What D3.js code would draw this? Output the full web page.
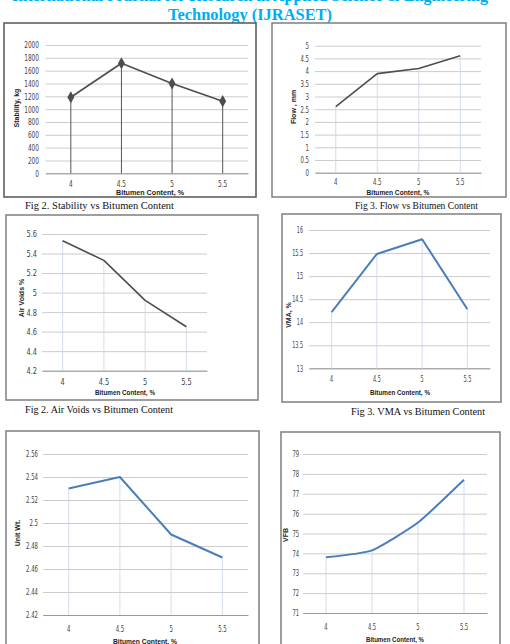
<!DOCTYPE html>
<html>
<head>
<meta charset="utf-8">
<script src="https://cdn.jsdelivr.net/npm/d3@7"></script>
<style>
  body { margin: 0; background: #fff; }
  svg { display: block; }
</style>
</head>
<body>
<svg id="page" width="510" height="644"></svg>
<script>
// bitumen content categories, shared by all six charts
const bitumen = ["4", "4.5", "5", "5.5"];

const stability = [1185, 1715, 1400, 1125];
const stabilityTicks = [0, 200, 400, 600, 800, 1000, 1200, 1400, 1600, 1800, 2000];

const flow = [2.6, 3.9, 4.1, 4.6];
const flowTicks = [0, 0.5, 1, 1.5, 2, 2.5, 3, 3.5, 4, 4.5, 5];

const airVoids = [5.53, 5.33, 4.92, 4.65];
const airVoidsTicks = [4.2, 4.4, 4.6, 4.8, 5, 5.2, 5.4, 5.6];

const vma = [14.22, 15.48, 15.8, 14.28];
const vmaTicks = [13, 13.5, 14, 14.5, 15, 15.5, 16];

const unitWt = [2.53, 2.54, 2.49, 2.47];
const unitWtTicks = [2.42, 2.44, 2.46, 2.48, 2.5, 2.52, 2.54, 2.56];

const vfb = [73.8, 74.15, 75.55, 77.7];
const vfbTicks = [71, 72, 73, 74, 75, 76, 77, 78, 79];

const svg = d3.select("#page");
svg.append("rect").attr("width", 510).attr("height", 644).attr("fill", "#fff");

const tickFont = "'Liberation Sans Narrow', 'DejaVu Sans Condensed', sans-serif";
const titleFont = "'Liberation Sans', Arial, sans-serif";
const serif = "'Liberation Serif', 'DejaVu Serif', serif";

// journal header, top line cut by the page edge
const header = svg.append("g")
    .attr("fill", "#00aeef")
    .attr("font-family", serif)
    .attr("font-weight", "bold")
    .attr("font-size", 17)
    .attr("text-anchor", "middle");
header.append("text")
    .attr("x", 250).attr("y", 1)
    .attr("textLength", 476).attr("lengthAdjust", "spacingAndGlyphs")
    .text("International Journal for Research in Applied Science & Engineering");
header.append("text")
    .attr("x", 250).attr("y", 20)
    .attr("textLength", 164).attr("lengthAdjust", "spacingAndGlyphs")
    .text("Technology (IJRASET)");

// squeeze Calibri-like narrow numerals
function narrow(sel, digitW) {
    sel.each(function () {
        const s = this.textContent;
        const n = s.replace(/[^0-9]/g, "").length;
        const dots = s.length - n;
        d3.select(this)
            .attr("textLength", n * digitW + dots * digitW * 0.5)
            .attr("lengthAdjust", "spacingAndGlyphs");
    });
}

function drawChart(c) {
    const g = svg.append("g");

    g.append("rect")
        .attr("x", c.box[0]).attr("y", c.box[1])
        .attr("width", c.box[2] - c.box[0]).attr("height", c.box[3] - c.box[1])
        .attr("fill", "#fff")
        .attr("stroke", c.boxColor || "#7f7f7f")
        .attr("stroke-width", 1.5);

    const x = d3.scaleBand()
        .domain(bitumen)
        .range(c.xr);

    const y = d3.scaleLinear()
        .domain(d3.extent(c.ticks))
        .range(c.yr);

    const cx = d => x(d) + x.bandwidth() / 2;

    // horizontal gridlines + labels
    g.append("g")
        .attr("transform", `translate(${c.xr[0]},0)`)
        .call(d3.axisLeft(y).tickValues(c.ticks).tickSize(-(c.xr[1] - c.xr[0])).tickPadding(c.xr[0] - c.labelX).tickFormat(d => String(d)))
        .call(a => a.select(".domain").remove())
        .call(a => a.selectAll(".tick line").attr("stroke", "#bfbfbf").attr("stroke-width", 0.8))
        .call(a => a.selectAll(".tick text")
            .attr("fill", "#444")
            .attr("font-family", tickFont)
            .attr("font-size", c.fontSize)
            .call(narrow, c.digitW));

    // category axis
    g.append("g")
        .attr("transform", `translate(0,${c.yr[0]})`)
        .call(d3.axisBottom(x).tickSize(0).tickPadding(c.tickPad))
        .call(a => a.select(".domain").attr("stroke", "#999").attr("stroke-width", 1))
        .call(a => a.selectAll(".tick text")
            .attr("fill", "#444")
            .attr("font-family", tickFont)
            .attr("font-size", c.fontSize)
            .call(narrow, c.digitW));

    const pts = bitumen.map((b, i) => [cx(b), y(c.values[i])]);

    // drop lines
    g.append("g")
        .selectAll("line")
        .data(pts)
        .join("line")
        .attr("x1", d => d[0]).attr("x2", d => d[0])
        .attr("y1", d => d[1]).attr("y2", c.yr[0])
        .attr("stroke", c.dropColor)
        .attr("stroke-width", c.dropWidth || 0.8);

    g.append("path")
        .attr("d", d3.line().curve(c.curve || d3.curveLinear)(pts))
        .attr("fill", "none")
        .attr("stroke", c.color)
        .attr("stroke-width", c.lineWidth)
        .attr("stroke-linejoin", "round");

    if (c.markers) {
        g.append("g")
            .selectAll("path")
            .data(pts)
            .join("path")
            .attr("transform", d => `translate(${d[0]},${d[1]})`)
            .attr("d", d3.symbol(d3.symbolDiamond, 42))
            .attr("fill", c.color);
    }

    g.append("text")
        .attr("transform", `translate(${c.yTitle[0]},${c.yTitle[1]}) rotate(-90)`)
        .attr("text-anchor", "middle")
        .attr("dy", "0.35em")
        .attr("font-family", titleFont)
        .attr("font-weight", "bold")
        .attr("font-size", 7)
        .attr("fill", "#222")
        .text(c.yLabel);

    g.append("text")
        .attr("x", c.xTitle[0]).attr("y", c.xTitle[1])
        .attr("text-anchor", "middle")
        .attr("dy", "0.35em")
        .attr("font-family", titleFont)
        .attr("font-weight", "bold")
        .attr("font-size", 7)
        .attr("textLength", c.xTitleLen)
        .attr("lengthAdjust", "spacingAndGlyphs")
        .attr("fill", "#222")
        .text("Bitumen Content, %");

    if (c.caption) {
        svg.append("text")
            .attr("x", c.caption[0]).attr("y", c.caption[1])
            .attr("font-family", serif)
            .attr("font-size", 10)
            .attr("textLength", c.caption[2])
            .attr("lengthAdjust", "spacingAndGlyphs")
            .attr("fill", "#111")
            .text(c.captionText);
    }
}

const gray = "#4d4d4d";
const blue = "#4a7ebb";
const paleDrop = "#c8d4e6";

drawChart({
    box: [4, 23, 256, 197], xr: [45.5, 248], yr: [173.3, 45], labelX: 39, tickPad: 7,
    fontSize: 9, digitW: 3.7,
    ticks: stabilityTicks, values: stability, color: gray, lineWidth: 1.6, markers: true,
    dropColor: "#555", dropWidth: 1, boxColor: "#555",
    yLabel: "Stability, kg", yTitle: [17, 108], xTitle: [150, 193], xTitleLen: 68,
    caption: [25, 209, 149], captionText: "Fig 2. Stability vs Bitumen Content"
});

drawChart({
    box: [272, 23, 506, 197], xr: [315, 481], yr: [172.7, 45.7], labelX: 309, tickPad: 6,
    fontSize: 9, digitW: 3.4,
    ticks: flowTicks, values: flow, color: gray, lineWidth: 1.6,
    dropColor: paleDrop,
    yLabel: "Flow , mm", yTitle: [294, 107], xTitle: [398, 193], xTitleLen: 63,
    caption: [355, 209, 123], captionText: "Fig 3. Flow vs Bitumen Content"
});

drawChart({
    box: [6, 215, 258, 400], xr: [42, 207], yr: [370.7, 234], labelX: 37, tickPad: 8,
    fontSize: 9, digitW: 4.2,
    ticks: airVoidsTicks, values: airVoids, color: gray, lineWidth: 1.6,
    dropColor: paleDrop,
    yLabel: "Air Voids %", yTitle: [22, 298], xTitle: [125, 393], xTitleLen: 60,
    caption: [25, 413, 148], captionText: "Fig 2.  Air Voids vs Bitumen Content"
});

drawChart({
    box: [282, 214, 501, 402], xr: [309, 490], yr: [368.3, 230], labelX: 303, tickPad: 8,
    fontSize: 8.5, digitW: 3.1,
    ticks: vmaTicks, values: vma, color: blue, lineWidth: 2,
    dropColor: paleDrop,
    yLabel: "VMA, %", yTitle: [289, 315], xTitle: [400, 393], xTitleLen: 60,
    caption: [351, 415, 134], captionText: "Fig 3. VMA vs Bitumen Content"
});

drawChart({
    box: [6, 431, 259, 652], xr: [43, 248], yr: [615, 454], labelX: 38, tickPad: 11,
    fontSize: 9, digitW: 3.4,
    ticks: unitWtTicks, values: unitWt, color: blue, lineWidth: 2,
    dropColor: paleDrop,
    yLabel: "Unit Wt.", yTitle: [18, 533], xTitle: [145, 642], xTitleLen: 64
});

drawChart({
    box: [281, 432, 500, 652], xr: [303, 487], yr: [613, 454], labelX: 299, tickPad: 11,
    fontSize: 8.5, digitW: 3.3,
    ticks: vfbTicks, values: vfb, color: blue, lineWidth: 2, curve: d3.curveCardinal.tension(0.5),
    dropColor: paleDrop,
    yLabel: "VFB", yTitle: [286, 535], xTitle: [395, 640], xTitleLen: 58
});
</script>
</body>
</html>
